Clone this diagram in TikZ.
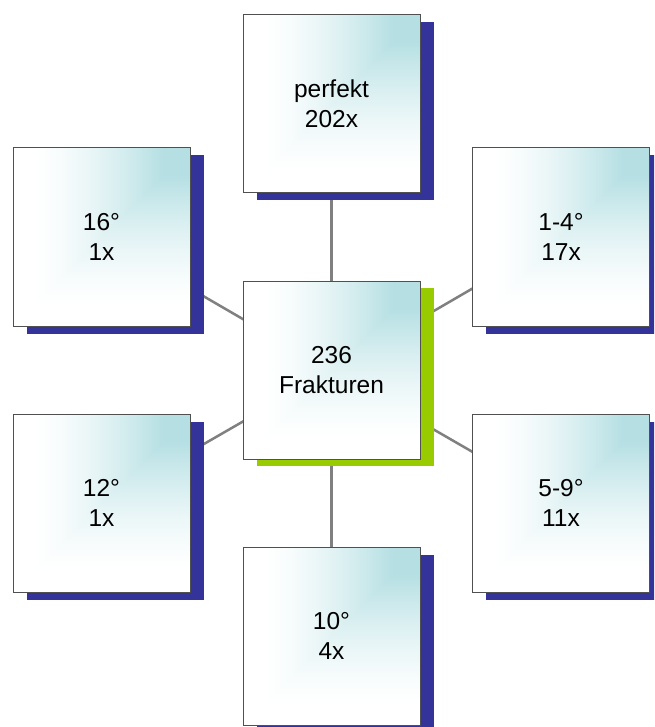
\documentclass[tikz,border=0pt]{standalone}
\usepackage{fontspec}
\setmainfont{Liberation Sans}
\usetikzlibrary{shadows}
\pgfdeclarelayer{background}
\pgfsetlayers{background,main}
\definecolor{shblue}{RGB}{51,51,153}
\definecolor{shgreen}{RGB}{153,204,0}
\definecolor{edgegray}{RGB}{80,80,80}
\definecolor{linegray}{RGB}{128,128,128}
% corner gradient: teal at top right, fading to white towards left and bottom
\pgfdeclarefunctionalshading{cornerteal}{\pgfpointorigin}{\pgfpoint{100bp}{100bp}}{}{
  75 exch sub 50 div
  exch 75 exch sub 50 div
  2 copy gt {pop} {exch pop} ifelse
  0.9 exch sub 0.75 div
  dup 0 lt {pop 0} if
  dup 1 gt {pop 1} if
  1.5 exp
  dup 0.29 mul 1 exch sub
  exch dup 0.125 mul 1 exch sub
  exch 0.11 mul 1 exch sub
}
\begin{document}
\begin{tikzpicture}[x=1pt,y=-1pt,
  box/.style={rectangle, draw=edgegray, line width=1pt,
    minimum width=177pt, minimum height=178pt, inner sep=0pt,
    shade, shading=cornerteal, align=center,
    font=\fontsize{24.5}{30}\selectfont, text=black},
  blueshadow/.style={general shadow={fill=shblue, shadow xshift=13.5pt, shadow yshift=-7.5pt}},
  greenshadow/.style={general shadow={fill=shgreen, shadow xshift=13.5pt, shadow yshift=-6.5pt}},
  link/.style={draw=linegray, line width=2.5pt}]
\clip (0,0) rectangle (654,727);
\node[box, blueshadow] (top) at (331.5,103.5) {perfekt\\202x};
\node[box, greenshadow] (mid) at (331.5,370.5) {236\\Frakturen};
\node[box, blueshadow] (bot) at (331.5,636) {10°\\4x};
\node[box, blueshadow] (ul) at (101.5,237) {16°\\1x};
\node[box, blueshadow] (ur) at (561,237) {1-4°\\17x};
\node[box, blueshadow] (ll) at (101.5,503) {12°\\1x};
\node[box, blueshadow] (lr) at (561,503) {5-9°\\11x};
\begin{pgfonlayer}{background}
\fill[white] (0,0) rectangle (654,727);
\draw[link] (mid.center) -- (top.center);
\draw[link] (mid.center) -- (bot.center);
\draw[link] (mid.center) -- (ul.center);
\draw[link] (mid.center) -- (ur.center);
\draw[link] (mid.center) -- (ll.center);
\draw[link] (mid.center) -- (lr.center);
\end{pgfonlayer}
\end{tikzpicture}
\end{document}
